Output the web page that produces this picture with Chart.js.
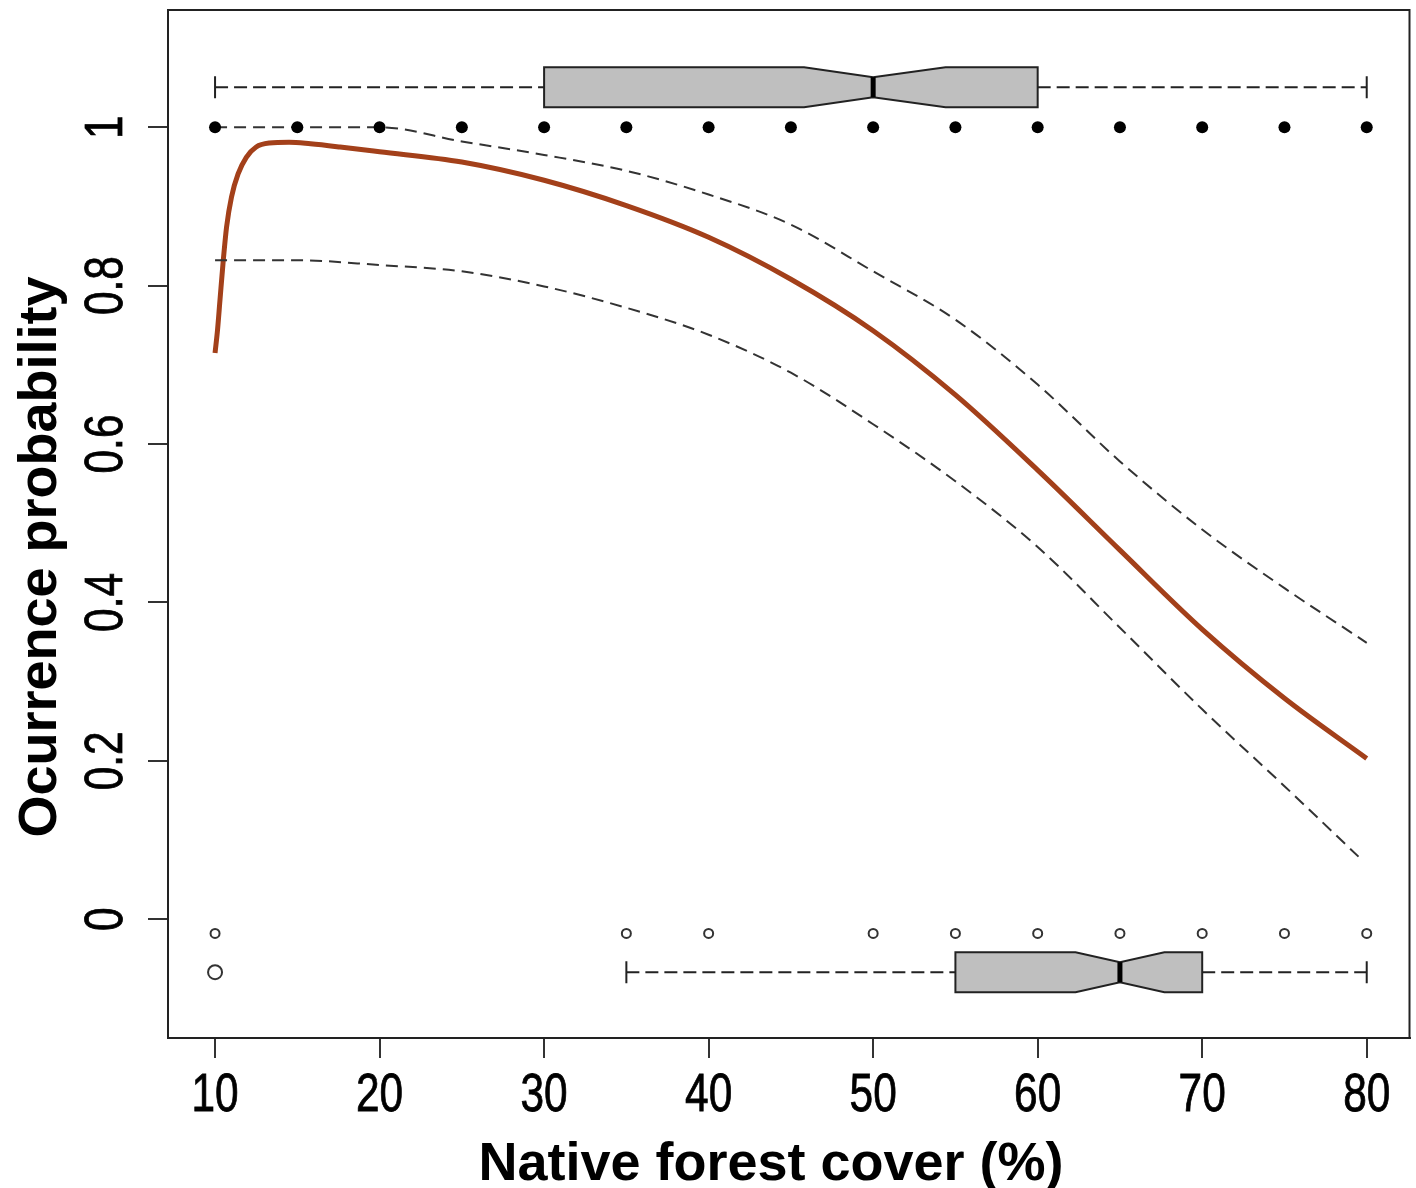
<!DOCTYPE html>
<html>
<head>
<meta charset="utf-8">
<script src="https://cdn.jsdelivr.net/npm/chart.js@4.4.0/dist/chart.umd.min.js"></script>
<style>
  html, body { margin: 0; padding: 0; background: #fff; }
  #wrap { width: 1416px; height: 1188px; }
</style>
</head>
<body>
<div id="wrap"><canvas id="occChart" width="1416" height="1188"></canvas></div>
<script>

// fitted curve
const curveX = [10, 10.15, 10.3, 10.5, 10.7, 11, 11.4, 11.9, 12.5, 13.3, 14.5, 15.8, 17.6, 20, 25, 30, 35, 40, 45, 50, 55, 60, 65, 70, 75, 80];
const curveY = [0.715, 0.744, 0.782, 0.832, 0.874, 0.912, 0.941, 0.962, 0.975, 0.980, 0.981, 0.979, 0.975, 0.969, 0.956, 0.933, 0.901, 0.861, 0.808, 0.743, 0.662, 0.567, 0.466, 0.366, 0.279, 0.203];

// confidence band
const upperX = [10, 15, 20, 25, 30, 35, 40, 45, 50, 55, 60, 65, 70, 75, 80];
const upperY = [1, 1, 1, 0.982, 0.965, 0.945, 0.915, 0.877, 0.818, 0.757, 0.675, 0.578, 0.492, 0.418, 0.349];
const lowerX = [10, 15, 20, 25, 30, 35, 40, 45, 50, 55, 60, 65, 70, 75, 79.5];
const lowerY = [0.832, 0.832, 0.826, 0.818, 0.799, 0.772, 0.738, 0.690, 0.625, 0.553, 0.470, 0.368, 0.265, 0.168, 0.079];

// observations
const presenceX = [10, 15, 20, 25, 30, 35, 40, 45, 50, 55, 60, 65, 70, 75, 80];
const presenceY = [1, 1, 1, 1, 1, 1, 1, 1, 1, 1, 1, 1, 1, 1, 1];
const absenceX = [10, 35, 40, 50, 55, 60, 65, 70, 75, 80];
const absenceY = [-0.018, -0.018, -0.018, -0.018, -0.018, -0.018, -0.018, -0.018, -0.018, -0.018];

// boxplots: min, q1, median, q3, max
const presenceStats = [10, 30, 50, 60, 80];
const presenceNotch = [45.8, 54.4];
const absenceStats = [35, 55, 65, 70, 80];
const absenceNotch = [62.3, 67.7];
const absenceOutliers = [10];

// axis ticks
const xTicks = [10, 20, 30, 40, 50, 60, 70, 80];
const xTickLabels = ['10', '20', '30', '40', '50', '60', '70', '80'];
const yTicks = [0, 0.2, 0.4, 0.6, 0.8, 1];
const yTickLabels = ['0', '0.2', '0.4', '0.6', '0.8', '1'];
const xTitle = 'Native forest cover (%)';
const yTitle = 'Ocurrence probability';

const tickFont = "53px 'Liberation Sans', Arial, sans-serif";
const titleFont = "bold 54px 'Liberation Sans', Arial, sans-serif";

function pts(xs, ys) {
  return xs.map((x, i) => ({ x: x, y: ys[i] }));
}

// notched boxplots drawn on the chart's own scales
const boxPlugin = {
  id: 'boxes',
  afterDatasetsDraw(chart) {
    const ctx = chart.ctx;
    const xs = chart.scales.x;
    const ys = chart.scales.y;

    function drawBox(stats, notch, yCenter) {
      const cy = ys.getPixelForValue(yCenter);
      const half = 20, nHalf = 10, cap = 11;
      const px = v => xs.getPixelForValue(v);

      ctx.save();
      ctx.strokeStyle = '#222';
      ctx.lineWidth = 2;
      // whiskers
      ctx.setLineDash([13, 6]);
      ctx.beginPath();
      ctx.moveTo(px(stats[0]), cy);
      ctx.lineTo(px(stats[1]), cy);
      ctx.moveTo(px(stats[3]), cy);
      ctx.lineTo(px(stats[4]), cy);
      ctx.stroke();
      ctx.setLineDash([]);
      ctx.beginPath();
      ctx.moveTo(px(stats[0]), cy - cap);
      ctx.lineTo(px(stats[0]), cy + cap);
      ctx.moveTo(px(stats[4]), cy - cap);
      ctx.lineTo(px(stats[4]), cy + cap);
      ctx.stroke();

      // notched box
      ctx.beginPath();
      ctx.moveTo(px(stats[1]), cy - half);
      ctx.lineTo(px(notch[0]), cy - half);
      ctx.lineTo(px(stats[2]), cy - nHalf);
      ctx.lineTo(px(notch[1]), cy - half);
      ctx.lineTo(px(stats[3]), cy - half);
      ctx.lineTo(px(stats[3]), cy + half);
      ctx.lineTo(px(notch[1]), cy + half);
      ctx.lineTo(px(stats[2]), cy + nHalf);
      ctx.lineTo(px(notch[0]), cy + half);
      ctx.lineTo(px(stats[1]), cy + half);
      ctx.closePath();
      ctx.fillStyle = '#bfbfbf';
      ctx.fill();
      ctx.stroke();

      // median
      ctx.lineWidth = 5;
      ctx.strokeStyle = '#000';
      ctx.beginPath();
      ctx.moveTo(px(stats[2]), cy - nHalf);
      ctx.lineTo(px(stats[2]), cy + nHalf);
      ctx.stroke();
      ctx.restore();
      return cy;
    }

    drawBox(presenceStats, presenceNotch, 1.0505);
    const cy = drawBox(absenceStats, absenceNotch, -0.0669);

    ctx.save();
    ctx.strokeStyle = '#333';
    ctx.lineWidth = 2;
    absenceOutliers.forEach(v => {
      ctx.beginPath();
      ctx.arc(xs.getPixelForValue(v), cy, 7, 0, Math.PI * 2);
      ctx.stroke();
    });
    ctx.restore();
  },
  // frame, tick labels and titles in R's look (narrow digits, rotated y labels)
  afterDraw(chart) {
    const ctx = chart.ctx;
    const xs = chart.scales.x;
    const ys = chart.scales.y;
    const area = chart.chartArea;
    ctx.save();
    ctx.strokeStyle = '#222';
    ctx.lineWidth = 2;
    ctx.strokeRect(area.left, area.top, area.right - area.left, area.bottom - area.top);

    ctx.fillStyle = '#000';
    ctx.strokeStyle = '#000';
    ctx.lineWidth = 0.8;
    ctx.font = tickFont;
    ctx.textAlign = 'center';
    ctx.textBaseline = 'alphabetic';
    xTicks.forEach((v, i) => {
      ctx.save();
      ctx.translate(xs.getPixelForValue(v), 1111);
      ctx.scale(0.8, 1);
      ctx.fillText(xTickLabels[i], 0, 0);
      ctx.strokeText(xTickLabels[i], 0, 0);
      ctx.restore();
    });
    yTicks.forEach((v, i) => {
      ctx.save();
      ctx.translate(122, ys.getPixelForValue(v));
      ctx.rotate(-Math.PI / 2);
      ctx.scale(0.8, 1);
      ctx.fillText(yTickLabels[i], 0, 0);
      ctx.strokeText(yTickLabels[i], 0, 0);
      ctx.restore();
    });

    ctx.font = titleFont;
    ctx.fillText(xTitle, 771, 1180);
    ctx.save();
    ctx.translate(56, 557);
    ctx.rotate(-Math.PI / 2);
    ctx.fillText(yTitle, 0, 0);
    ctx.restore();
    ctx.restore();
  }
};

new Chart(document.getElementById('occChart'), {
  type: 'scatter',
  data: {
    datasets: [{
      label: 'fit',
      data: pts(curveX, curveY),
      showLine: true,
      borderColor: '#a3401a',
      borderWidth: 5,
      pointRadius: 0,
      cubicInterpolationMode: 'monotone',
      order: 3
    }, {
      label: 'upper',
      data: pts(upperX, upperY),
      showLine: true,
      borderColor: '#333',
      borderWidth: 2,
      borderDash: [12, 7],
      pointRadius: 0,
      cubicInterpolationMode: 'monotone',
      order: 2
    }, {
      label: 'lower',
      data: pts(lowerX, lowerY),
      showLine: true,
      borderColor: '#333',
      borderWidth: 2,
      borderDash: [12, 7],
      pointRadius: 0,
      cubicInterpolationMode: 'monotone',
      order: 2
    }, {
      label: 'presence',
      data: pts(presenceX, presenceY),
      pointRadius: 6,
      pointBackgroundColor: '#000',
      pointBorderWidth: 0,
      order: 1
    }, {
      label: 'absence',
      data: pts(absenceX, absenceY),
      pointRadius: 4.5,
      pointBackgroundColor: '#fff',
      pointBorderColor: '#333',
      pointBorderWidth: 2,
      order: 1
    }]
  },
  options: {
    responsive: false,
    animation: false,
    devicePixelRatio: 1,
    layout: { padding: { top: 10, right: 6, left: 0, bottom: 0 } },
    plugins: {
      legend: { display: false },
      tooltip: { enabled: false }
    },
    scales: {
      x: {
        type: 'linear',
        position: 'bottom',
        min: 7.14,
        max: 82.6,
        afterBuildTicks: (scale) => { scale.ticks = xTicks.map(v => ({ value: v })); },
        afterFit: (scale) => { scale.height = 150; },
        ticks: { display: false },
        grid: { drawOnChartArea: false, drawTicks: true, tickLength: 20, color: '#333', lineWidth: 2 },
        border: { display: true, color: '#222', width: 2 },
        title: { display: false }
      },
      y: {
        type: 'linear',
        min: -0.15,
        max: 1.148,
        afterBuildTicks: (scale) => { scale.ticks = yTicks.map(v => ({ value: v })); },
        afterFit: (scale) => { scale.width = 168; },
        ticks: { display: false },
        grid: { drawOnChartArea: false, drawTicks: true, tickLength: 20, color: '#333', lineWidth: 2 },
        border: { display: true, color: '#222', width: 2 },
        title: { display: false }
      }
    }
  },
  plugins: [boxPlugin]
});
</script>
</body>
</html>
